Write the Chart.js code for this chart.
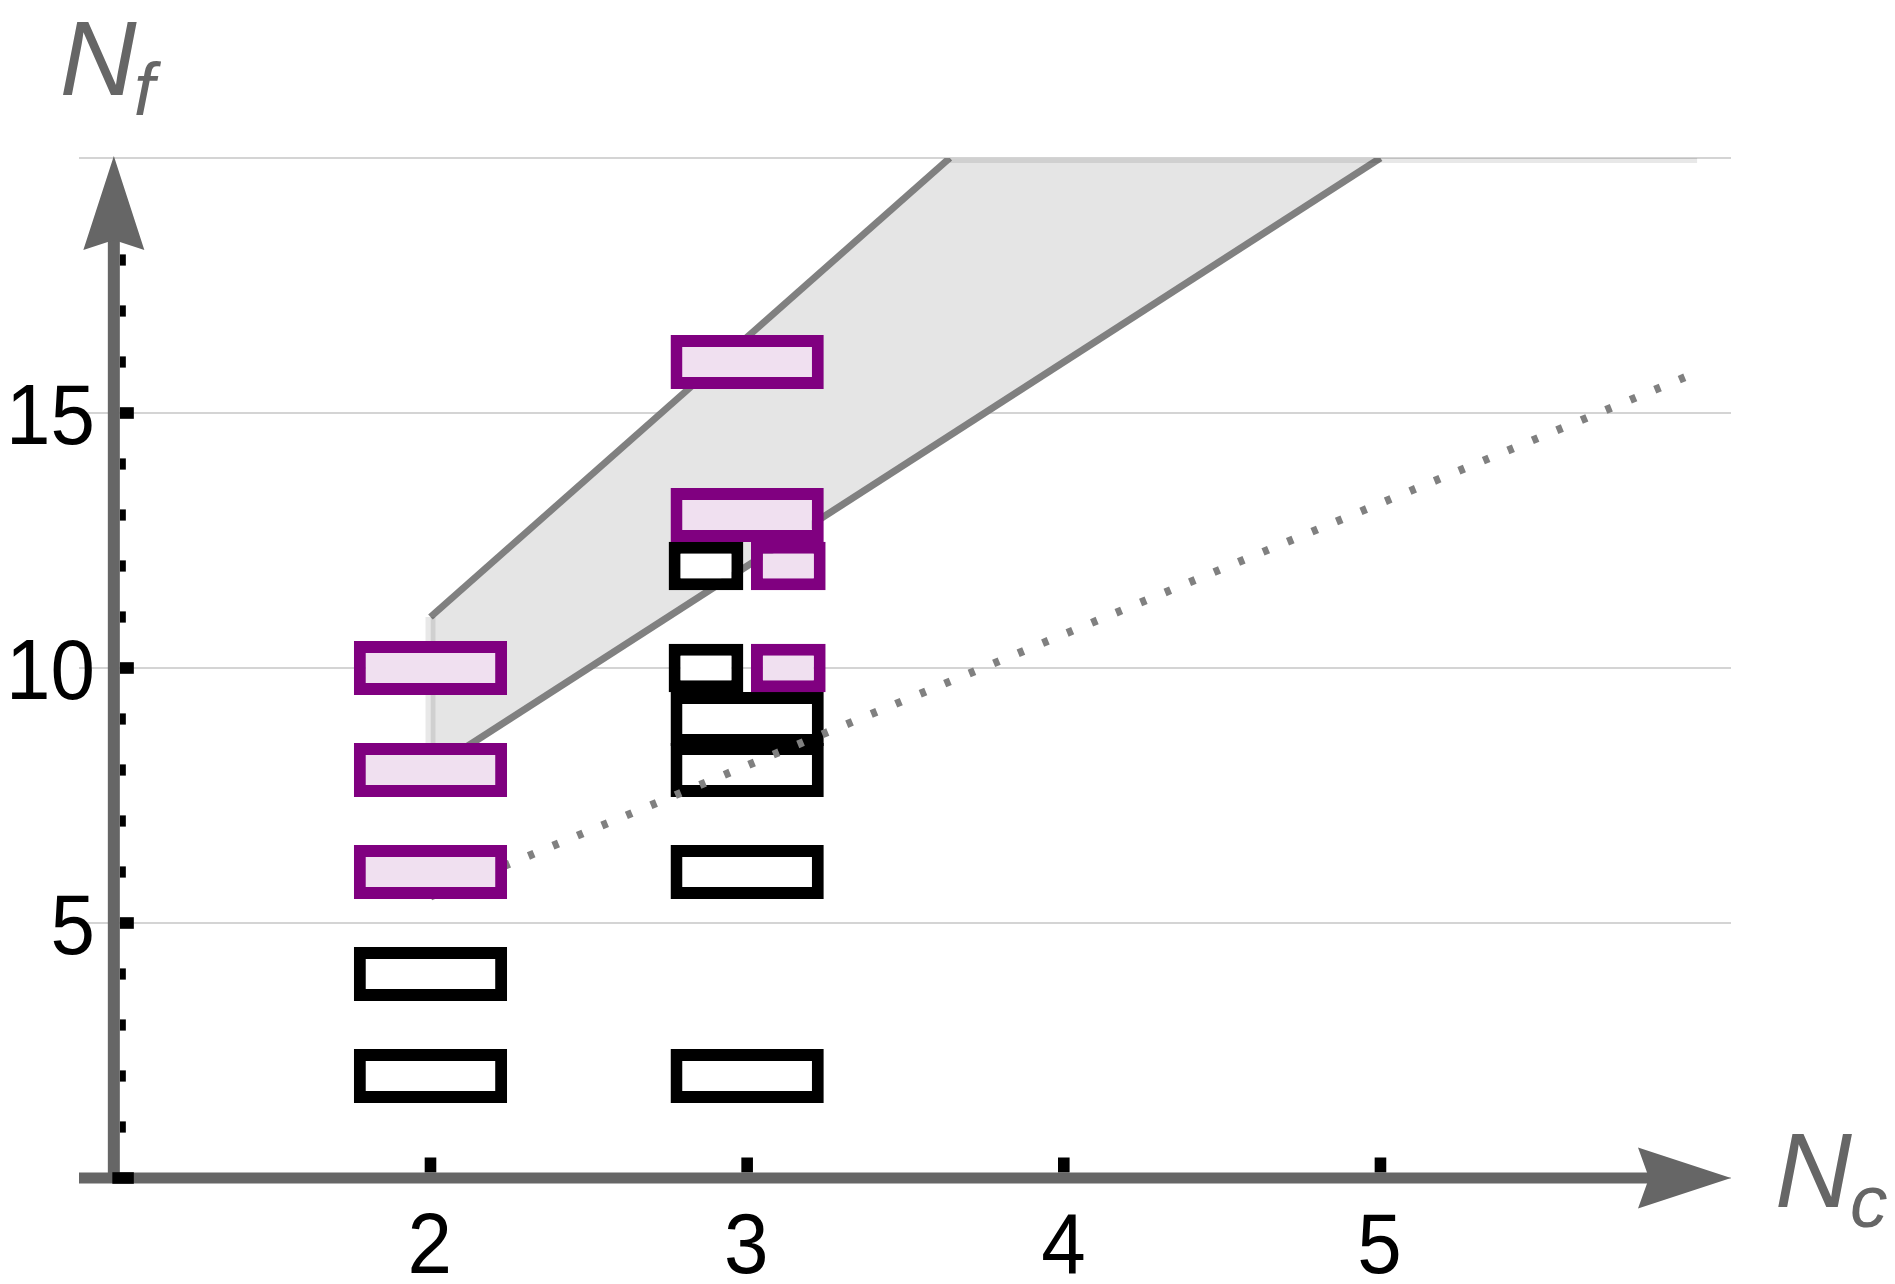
<!DOCTYPE html>
<html><head><meta charset="utf-8">
<script src="https://cdn.jsdelivr.net/npm/chart.js@4.4.1/dist/chart.umd.min.js"></script>
<style>html,body{margin:0;padding:0;background:#fff;overflow:hidden}canvas{display:block}</style>
</head><body>
<canvas id="c" width="1895" height="1284"></canvas>
<script>
// ---------------- data ----------------
const xTickValues = [2, 3, 4, 5];
const yTickValues = [5, 10, 15];
const yMinorTickValues = [1, 2, 3, 4, 6, 7, 8, 9, 11, 12, 13, 14, 16, 17, 18, 19];
const axisOrigin = [1, 0];

// black (open) boxes
const openX = [2, 2, 3, 3, 3, 3];
const openY = [2, 4, 2, 6, 8, 9];
// purple (filled) boxes
const filledX = [2, 2, 2, 3, 3];
const filledY = [6, 8, 10, 13, 16];
// split cells: black half (left) and purple half (right)
const openHalfX = [3, 3];
const openHalfY = [10, 12];
const filledHalfX = [3, 3];
const filledHalfY = [10, 12];

// shaded band
const bandUpperX = [2, 3.64, 6];
const bandUpperY = [11, 20, 20];
const bandLowerX = [2, 5, 6];
const bandLowerY = [8, 20, 20];
// dotted bound
const boundX = [2, 6];
const boundY = [5.52, 15.8];

// ---------------- layout / style ----------------
const W = 1895, H = 1284;
const PAD = {left: 79, right: 164, top: 158, bottom: 106};
const X_MIN = 0.89, X_MAX = 6.107, Y_MIN = 0, Y_MAX = 20;
const PX_PER_X = (W - PAD.left - PAD.right) / (X_MAX - X_MIN);
const BOX_HALF_H = 0.53, BOX_W = 0.484;
const HALF_BOX_HALF_H = 0.475, HALF_BOX_W = 0.236, HALF_SHIFT = 0.13;
const STROKE = 12;
const AXIS_GRAY = '#666666';
const CLEAR = 'rgba(0,0,0,0)';

const toPts = (xs, ys) => xs.map((x, i) => ({x, y: ys[i]}));
const boxData = (xs, ys, shift, hh) => xs.map((x, i) => ({x: x + shift, y: [ys[i] - hh, ys[i] + hh]}));

function barSet(data, widthUnits, fill, stroke, order) {
  return {
    type: 'bar', data, order,
    backgroundColor: fill, borderColor: stroke, borderWidth: STROKE,
    borderSkipped: false, grouped: false, inflateAmount: 0,
    barThickness: widthUnits * PX_PER_X
  };
}

const datasets = [
  { // band fill (upper boundary)
    type: 'line', data: toPts(bandUpperX, bandUpperY), order: 30,
    borderColor: CLEAR, borderWidth: 0, pointRadius: 0, clip: 0,
    backgroundColor: '#e5e5e5', fill: '+1'
  },
  { // band fill (lower boundary)
    type: 'line', data: toPts(bandLowerX, bandLowerY), order: 29,
    borderColor: CLEAR, borderWidth: 0, pointRadius: 0, clip: 0, fill: false
  },
  { // upper edge line
    type: 'line', data: toPts(bandUpperX.slice(0, 2), bandUpperY.slice(0, 2)), order: 22,
    borderColor: '#808080', borderWidth: 7, pointRadius: 0, clip: 0, fill: false
  },
  { // lower edge line
    type: 'line', data: toPts(bandLowerX.slice(0, 2), bandLowerY.slice(0, 2)), order: 21,
    borderColor: '#808080', borderWidth: 7, pointRadius: 0, clip: 0, fill: false
  },
  { // faint outline of the filled region (left side and clipped top)
    type: 'line', order: 18, clip: 0, fill: false, pointRadius: 0, spanGaps: false,
    data: [
      {x: bandUpperX[0], y: bandLowerY[0]}, {x: bandUpperX[0], y: bandUpperY[0]},
      {x: bandUpperX[1], y: null},
      {x: bandUpperX[1], y: bandUpperY[1]}, {x: bandUpperX[2], y: bandUpperY[2]}
    ],
    borderColor: 'rgba(0,0,0,0.09)', borderWidth: 10
  },
  barSet(boxData(openX, openY, 0, BOX_HALF_H), BOX_W, '#ffffff', '#000000', 15),
  barSet(boxData(openHalfX, openHalfY, -HALF_SHIFT, HALF_BOX_HALF_H), HALF_BOX_W, '#ffffff', '#000000', 14),
  { // dotted bound
    type: 'line', data: toPts(boundX, boundY), order: 10,
    borderColor: '#808080', borderWidth: 8, borderDash: [6, 20.5], borderCapStyle: 'butt',
    pointRadius: 0, fill: false
  },
  barSet(boxData(filledX, filledY, 0, BOX_HALF_H), BOX_W, '#f0e0f0', '#800080', 5),
  barSet(boxData(filledHalfX, filledHalfY, HALF_SHIFT, HALF_BOX_HALF_H), HALF_BOX_W, '#f0e0f0', '#800080', 4)
];

const axesPlugin = {
  id: 'axesPlugin',
  afterDatasetsDraw(chart) {
    const {ctx, chartArea: ca, scales: {x, y}} = chart;
    const ax = x.getPixelForValue(axisOrigin[0]);
    const ay = y.getPixelForValue(axisOrigin[1]);
    ctx.save();
    // tick marks (under the axis arrows)
    ctx.fillStyle = '#000000';
    yTickValues.forEach(v => { const py = y.getPixelForValue(v); ctx.fillRect(ax + 6, py - 5.8, 14, 11.6); });
    yMinorTickValues.forEach(v => { const py = y.getPixelForValue(v); ctx.fillRect(ax + 6, py - 5.6, 6, 11.2); });
    xTickValues.forEach(v => { const px = x.getPixelForValue(v); ctx.fillRect(px - 5.8, ay - 5.5 - 15, 11.6, 15); });
    // axis lines
    ctx.fillStyle = AXIS_GRAY;
    ctx.fillRect(ax - 6, ca.top + 80, 12, ay + 5 - (ca.top + 80));
    ctx.fillRect(ca.left, ay - 5.5, ca.right - 80 - ca.left, 11);
    // arrow heads
    ctx.beginPath();
    ctx.moveTo(ax, ca.top - 2);
    ctx.lineTo(ax + 30.5, ca.top + 92);
    ctx.lineTo(ax, ca.top + 82);
    ctx.lineTo(ax - 30.5, ca.top + 92);
    ctx.closePath(); ctx.fill();
    ctx.beginPath();
    ctx.moveTo(ca.right, ay);
    ctx.lineTo(ca.right - 93, ay - 30.5);
    ctx.lineTo(ca.right - 82, ay);
    ctx.lineTo(ca.right - 93, ay + 30.5);
    ctx.closePath(); ctx.fill();
    // origin tick on top of the axes
    ctx.fillStyle = '#000000';
    ctx.fillRect(ax - 1.5, ay - 5.8, 21.5, 11.6);

    // text helper: place ink box left edge at `left`, horizontally scaled by sx
    const drawText = (t, font, anchor, base, sx, align) => {
      ctx.font = font;
      const m = ctx.measureText(t);
      const inkW = m.actualBoundingBoxLeft + m.actualBoundingBoxRight;
      let left = anchor;
      if (align === 'right') left = anchor - inkW * sx;
      if (align === 'center') left = anchor - inkW * sx / 2;
      ctx.save();
      ctx.translate(left, base);
      ctx.scale(sx, 1);
      ctx.textAlign = 'left';
      ctx.textBaseline = 'alphabetic';
      ctx.fillText(t, m.actualBoundingBoxLeft, 0);
      ctx.restore();
      return inkW * sx;
    };
    // tick labels
    ctx.fillStyle = '#000000';
    const tickFont = '85px "Liberation Sans", Arial, sans-serif';
    yTickValues.forEach(v => drawText(String(v), tickFont, ax - 22, y.getPixelForValue(v) + 31, 0.94, 'right'));
    xTickValues.forEach(v => drawText(String(v), tickFont, x.getPixelForValue(v) - 1, ay + 95, 0.94, 'center'));
    // axis labels
    ctx.fillStyle = AXIS_GRAY;
    const big = 'italic 105px "Liberation Sans", Arial, sans-serif';
    const small = 'italic 75px "Liberation Sans", Arial, sans-serif';
    ctx.font = big;
    const mN = ctx.measureText('N');
    const sN = 74 / (mN.actualBoundingBoxLeft + mN.actualBoundingBoxRight);
    drawText('N', big, ax - 51, ca.top - 63, sN, 'left');
    drawText('f', small, ax + 22, ca.top - 43, 1, 'left');
    drawText('N', big, ca.right + 47, ay + 29, sN, 'left');
    drawText('c', small, ca.right + 121, ay + 49, 1, 'left');
    ctx.restore();
  }
};

new Chart(document.getElementById('c'), {
  type: 'bar',
  data: {datasets},
  options: {
    responsive: false, devicePixelRatio: 1, animation: false,
    layout: {padding: PAD},
    plugins: {legend: {display: false}, tooltip: {enabled: false}, title: {display: false}},
    scales: {
      x: {type: 'linear', min: X_MIN, max: X_MAX, offset: false, display: false},
      y: {
        type: 'linear', min: Y_MIN, max: Y_MAX, position: 'left',
        ticks: {display: false, stepSize: 5},
        grid: {color: '#d4d4d4', lineWidth: 2, drawTicks: false},
        border: {display: false}
      }
    }
  },
  plugins: [axesPlugin]
});
</script>
</body></html>
